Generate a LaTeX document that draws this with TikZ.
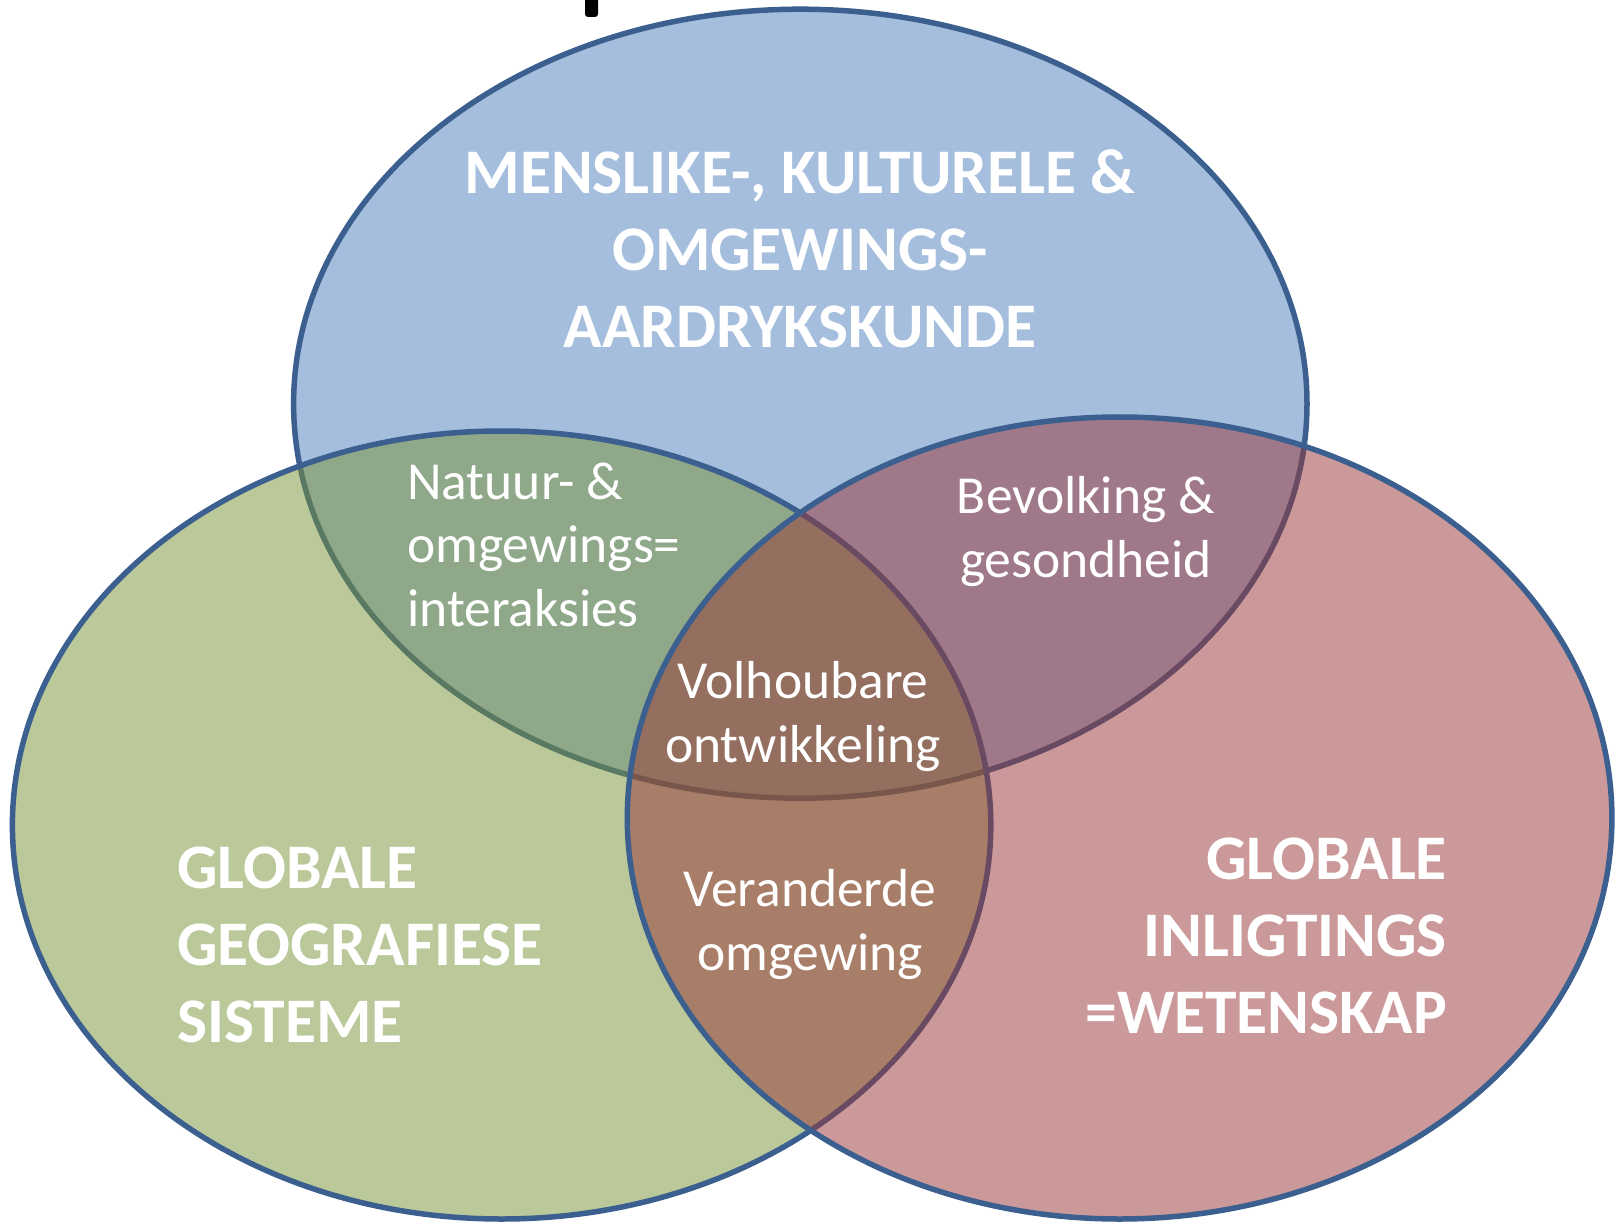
\documentclass[tikz,border=0pt]{standalone}
\usepackage{fontspec}
\setmainfont{Carlito}
\usepackage{xcolor}

\definecolor{vennblue}{RGB}{79,127,189}
\definecolor{venngreen}{RGB}{121,147,55}
\definecolor{vennred}{RGB}{153,53,55}
\definecolor{vennline}{RGB}{59,95,143}

\tikzset{
  venn/.style={draw=vennline, line width=5.5pt, fill opacity=0.5},
  headtext/.style={text=white, inner sep=0pt, font=\fontsize{63.5}{77}\selectfont\bfseries},
  areatext/.style={text=white, inner sep=0pt, font=\fontsize{53.5}{63.5}\selectfont}
}

\begin{document}
\begin{tikzpicture}[x=1pt, y=-1pt]
    % Page
    \fill[white] (0,0) rectangle (1615,1222);
    \useasboundingbox (0,0) rectangle (1615,1222);

    % Cut-off title mark
    \fill[black, rounded corners=3pt] (585,-6) rectangle (598,17);

    % Draw circles
    \draw[venn, fill=vennblue] (800.3,403.7) ellipse [x radius=506.7, y radius=394.5];
    \draw[venn, fill=venngreen] (501.6,825) ellipse [x radius=489.2, y radius=394];
    \draw[venn, fill=vennred] (1119.6,818) ellipse [x radius=492.3, y radius=401];

    % Main labels (anchored at the last baseline)
    \node[headtext, align=center, anchor=base] (human) at (800,348)
        {MENSLIKE-, KULTURELE \&\\OMGEWINGS-\\AARDRYKSKUNDE};
    \node[headtext, align=left, anchor=base west] (gis) at (177,1042)
        {GLOBALE\\GEOGRAFIESE\\SISTEME};
    \node[headtext, align=right, anchor=base east] (info) at (1447,1033)
        {GLOBALE\\INLIGTINGS\\=WETENSKAP};

    % Overlap labels
    \node[areatext, align=left, anchor=base west] (nature) at (407,626)
        {Natuur- \&\\omgewings=\\interaksies};
    \node[areatext, align=center, anchor=base] (health) at (1086,577)
        {Bevolking \&\\gesondheid};
    \node[areatext, align=center, anchor=base] (sustain) at (803,762)
        {Volhoubare\\ontwikkeling};
    \node[areatext, align=center, anchor=base] (change) at (810,970)
        {Veranderde\\omgewing};
\end{tikzpicture}
\end{document}
